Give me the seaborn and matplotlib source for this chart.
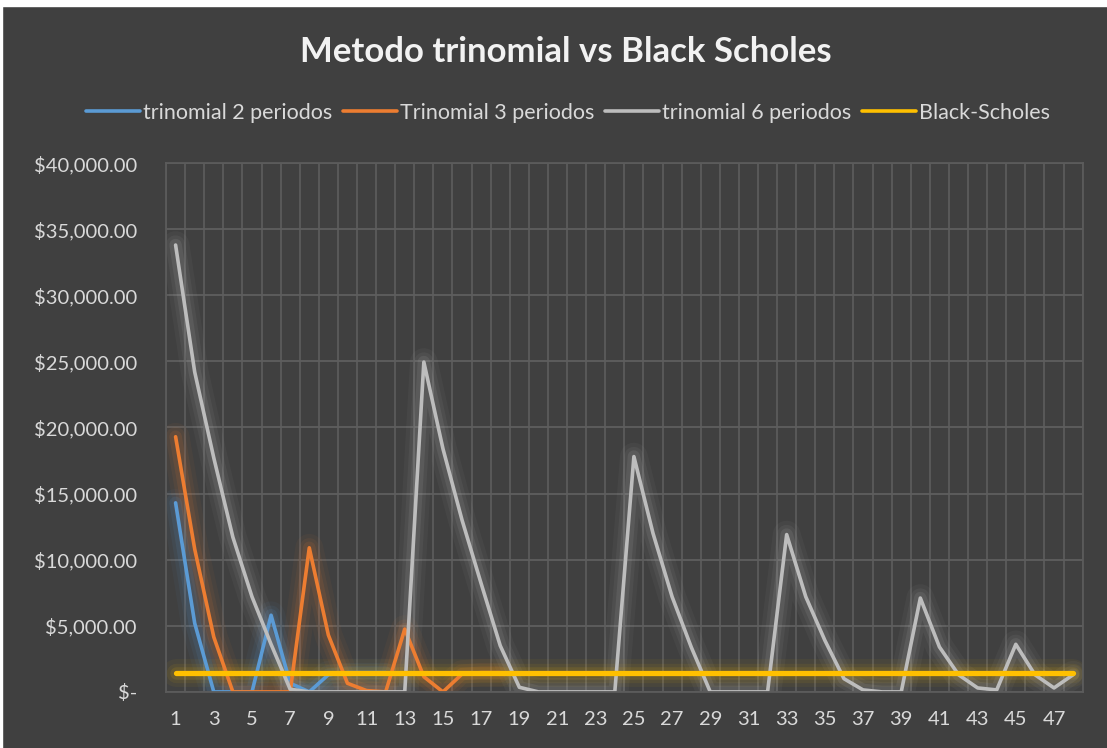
import numpy as np
import pandas as pd
import matplotlib
matplotlib.use('Agg')
import matplotlib.pyplot as plt
import seaborn as sns
from matplotlib.ticker import FuncFormatter, MultipleLocator
from matplotlib.patches import Rectangle

# Datos
periodos = list(range(1, 49))
nan = np.nan
trinomial_2 = [14300, 5200, 0, 0, 0, 5800, 650, 0, 1300, 1460, 1460, 1460] + [nan] * 36
trinomial_3 = [19300, 10800, 4150, 0, 0, 0, 0, 10900, 4300, 650, 100, 0,
               4750, 1150, 0, 1350, 1460, 1460] + [nan] * 30
trinomial_6 = [33800, 24200, 17700, 11700, 7200, 3600, 200, 0, 0, 0, 0, 0, 0,
               24950, 18400, 13000, 8200, 3500, 350, 0, 0, 0, 0, 0,
               17800, 12000, 7200, 3400, 0, 0, 0, 0,
               11900, 7200, 3900, 1000, 150, 0, 0,
               7100, 3400, 1300, 300, 150, 3600, 1300, 300, 1300]
black_scholes = [1460] * 48

series = ['trinomial 2 periodos', 'Trinomial 3 periodos', 'trinomial 6 periodos', 'Black-Scholes']
colores = ['#5b9bd5', '#ed7d31', '#bdbdbd', '#ffc000']

df = pd.DataFrame({
    'periodo': periodos * 4,
    'valor': trinomial_2 + trinomial_3 + trinomial_6 + black_scholes,
    'serie': np.repeat(series, 48),
}).dropna()

bg = '#404040'
sns.set_theme(style='dark', rc={'axes.facecolor': bg, 'figure.facecolor': bg})
plt.rcParams['font.family'] = ['Lato', 'DejaVu Sans']

fig = plt.figure(figsize=(11.07, 7.48), dpi=100)
ax = fig.add_axes([0.15, 0.075, 0.828, 0.707])
palette = dict(zip(series, colores))

# efecto "glow" de Excel: capas anchas y transparentes debajo de cada linea
for lw, a in [(20, 0.05), (14, 0.07), (9, 0.11)]:
    sns.lineplot(data=df, x='periodo', y='valor', hue='serie', hue_order=series,
                 palette=palette, lw=lw, alpha=a, legend=False, ax=ax)

sns.lineplot(data=df[df['serie'] != 'Black-Scholes'], x='periodo', y='valor', hue='serie',
             hue_order=series[:3], palette=palette, lw=2.6, legend=False, ax=ax)
sns.lineplot(data=df[df['serie'] == 'Black-Scholes'], x='periodo', y='valor', color=colores[3],
             lw=3.8, legend=False, ax=ax)

ax.set_xlim(0.5, 48.5)
ax.set_ylim(0, 40000)
ax.set_xticks(range(1, 49, 2))
ax.xaxis.set_minor_locator(MultipleLocator(1, offset=0.5))
ax.yaxis.set_major_locator(MultipleLocator(5000))
ax.yaxis.set_major_formatter(FuncFormatter(lambda v, p: '$-' if v == 0 else f'${v:,.2f}'))
ax.grid(which='major', axis='y', color='#5e5e5e', lw=1.3)
ax.grid(which='minor', axis='x', color='#5b5b5b', lw=1.3)
ax.set_axisbelow(True)
for s in ax.spines.values():
    s.set_visible(True)
    s.set_color('#5b5b5b')
    s.set_linewidth(1.3)
ax.tick_params(axis='x', which='both', length=0, pad=14, labelsize=14.5, labelcolor='#d9d9d9')
ax.tick_params(axis='y', length=0, pad=21, labelsize=14.5, labelcolor='#d9d9d9')
ax.set_xlabel('')
ax.set_ylabel('')

fig.text(0.511, 0.930, 'Metodo trinomial vs Black Scholes', ha='center', va='center',
         fontsize=25, fontweight='bold', color='#f2f2f2')

handles = [plt.Line2D([], [], color=c, lw=2.6) for c in colores]
fig.legend(handles, series, loc='center', bbox_to_anchor=(0.513, 0.849), ncol=4,
           frameon=False, fontsize=15.5, labelcolor='#d9d9d9', handlelength=2.5,
           handletextpad=0.15, columnspacing=0.5)

# borde blanco superior e izquierdo de la captura
fig.add_artist(Rectangle((0, 1 - 6 / 748), 1, 6 / 748, color='white', transform=fig.transFigure))
fig.add_artist(Rectangle((0, 0), 2 / 1107, 1, color='white', transform=fig.transFigure))

fig.savefig('out.png', dpi=100, facecolor=bg)
